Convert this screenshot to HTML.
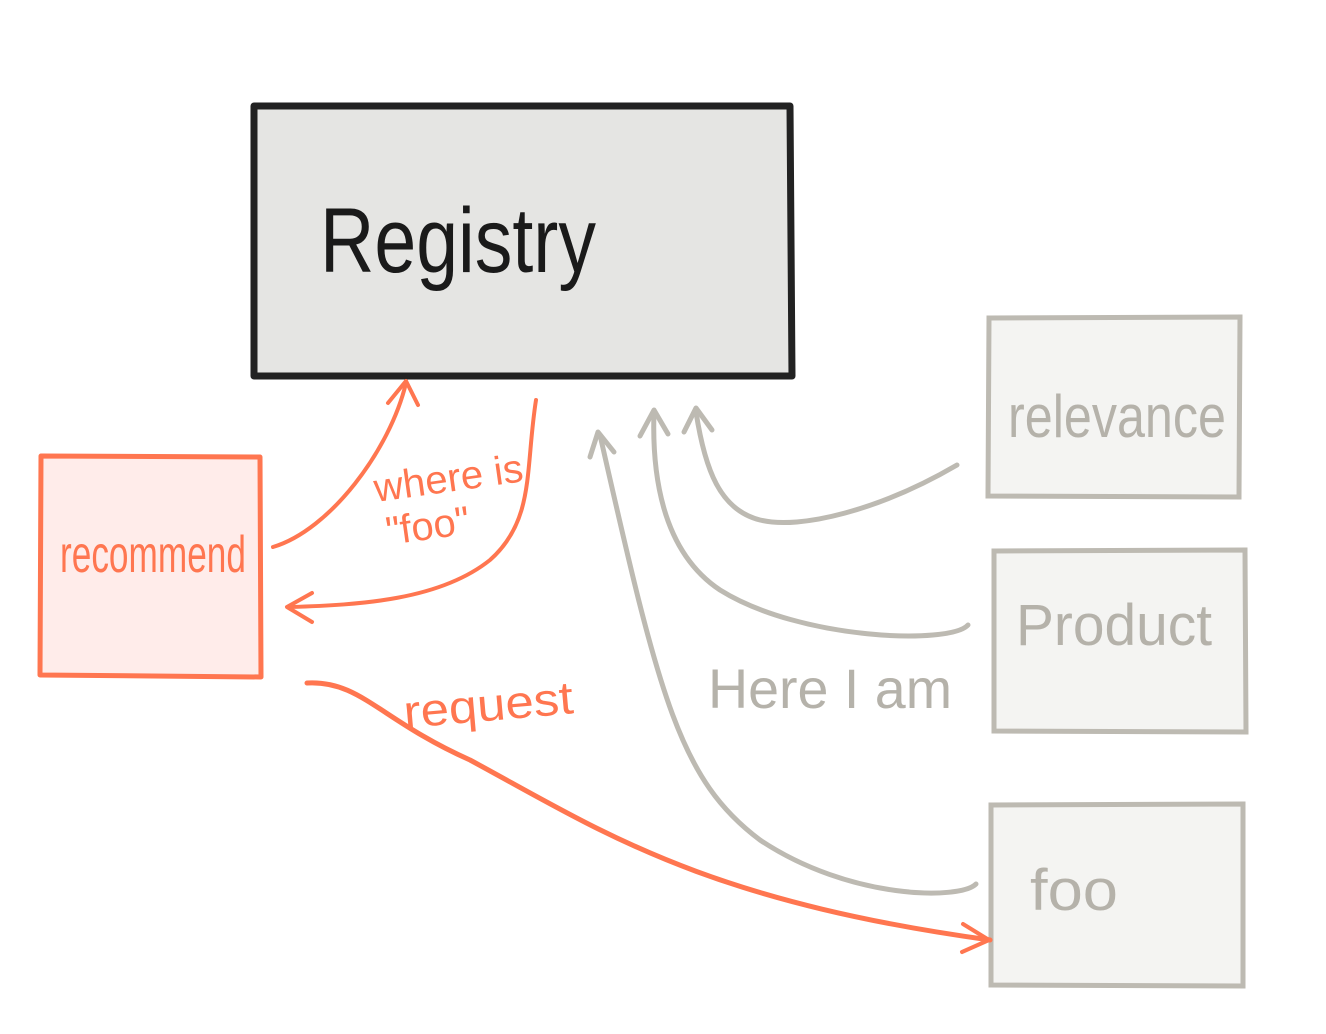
<!DOCTYPE html>
<html><head><meta charset="utf-8"><style>
html,body{margin:0;padding:0;background:#fff;width:1326px;height:1034px;overflow:hidden}
svg{display:block}
text{font-family:"Liberation Sans",sans-serif}
</style></head><body>
<svg width="1326" height="1034" viewBox="0 0 1326 1034" xmlns="http://www.w3.org/2000/svg">
<!-- Registry -->
<path d="M254,106 L790,106 L792,376 L254,376 Z" fill="#e5e5e3" stroke="#222" stroke-width="7" stroke-linejoin="round"/>
<text x="320" y="272" font-size="92" fill="#1a1a1a" textLength="276" lengthAdjust="spacingAndGlyphs">Registry</text>
<!-- Recommend -->
<path d="M41,456 L260,457 L261,677 L40,675 Z" fill="#ffecea" stroke="#ff7650" stroke-width="5" stroke-linejoin="round"/>
<text x="60" y="572" font-size="52" fill="#ff7650" textLength="186" lengthAdjust="spacingAndGlyphs">recommend</text>
<!-- relevance -->
<path d="M989,318 L1240,317 L1239,497 L988,496 Z" fill="#f4f4f2" stroke="#bdbab2" stroke-width="5"/>
<text x="1008" y="437" font-size="60" fill="#b5b2aa" textLength="218" lengthAdjust="spacingAndGlyphs">relevance</text>
<!-- Product -->
<path d="M994,551 L1245,550 L1246,732 L994,731 Z" fill="#f4f4f2" stroke="#bdbab2" stroke-width="5"/>
<text x="1016" y="645" font-size="58" fill="#b5b2aa" textLength="196" lengthAdjust="spacingAndGlyphs">Product</text>
<!-- foo -->
<path d="M991,805 L1243,804 L1243,986 L991,985 Z" fill="#f4f4f2" stroke="#bdbab2" stroke-width="5"/>
<text x="1030" y="910" font-size="58" fill="#b5b2aa" textLength="88" lengthAdjust="spacingAndGlyphs">foo</text>
<!-- orange connectors -->
<g fill="none" stroke="#ff7650" stroke-width="4" stroke-linecap="round" stroke-linejoin="round">
<path d="M273,547 C330,530 390,450 406,383"/>
<path d="M388,403 L406,381 L418,405"/>
<path d="M536,400 C525,470 535,520 490,560 C440,600 360,605 290,607"/>
<path d="M312,593 L287,607 L312,622"/>
<path d="M307,683 C360,680 380,720 470,760 C600,830 700,900 990,940" stroke-width="5"/>
<path d="M963,924 L989,940 L962,952"/>
</g>
<text x="376" y="502" font-size="40" fill="#ff7650" transform="rotate(-8 376 502)" textLength="150" lengthAdjust="spacingAndGlyphs">where is</text>
<text x="388" y="545" font-size="40" fill="#ff7650" transform="rotate(-8 388 545)">"foo"</text>
<text x="405" y="728" font-size="46" fill="#ff7650" transform="rotate(-5 405 728)" textLength="170" lengthAdjust="spacingAndGlyphs">request</text>
<!-- gray connectors -->
<g fill="none" stroke="#bdbab2" stroke-width="5" stroke-linecap="round" stroke-linejoin="round">
<path d="M957,465 C880,510 800,530 760,520 C720,510 705,470 696,412"/>
<path d="M684,432 L696,408 L712,430"/>
<path d="M968,625 C950,645 800,640 720,590 C660,550 652,470 654,412"/>
<path d="M640,436 L654,410 L668,434"/>
<path d="M976,884 C960,900 850,900 760,840 C680,780 660,700 600,435"/>
<path d="M590,457 L598,432 L614,452"/>
</g>
<text x="708" y="708" font-size="56" fill="#b5b2aa" textLength="244" lengthAdjust="spacingAndGlyphs">Here I am</text>
</svg>
</body></html>
